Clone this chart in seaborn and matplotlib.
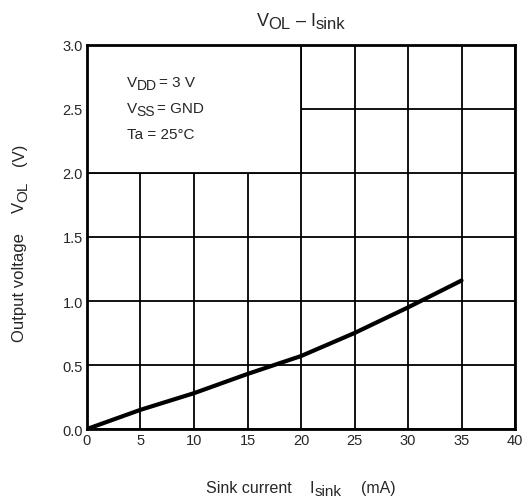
import matplotlib
matplotlib.use("Agg")
import matplotlib.pyplot as plt
import seaborn as sns
import pandas as pd
from matplotlib.patches import Rectangle
from matplotlib.transforms import offset_copy, blended_transform_factory

# data
sink_current = [0, 5, 10, 15, 20, 25, 30, 35]
vol = [0.0, 0.15, 0.28, 0.43, 0.57, 0.75, 0.95, 1.16]
x_ticks = [0, 5, 10, 15, 20, 25, 30, 35, 40]
y_ticks = [0.0, 0.5, 1.0, 1.5, 2.0, 2.5, 3.0]

df = pd.DataFrame({"I": sink_current, "V": vol})

sns.set_style("white")
plt.rcParams["font.family"] = ["Liberation Sans", "DejaVu Sans"]

fig = plt.figure(figsize=(5.25, 5.02), dpi=100)
ax = fig.add_axes([0.1657, 0.1434, 0.8153, 0.765])
renderer = fig.canvas.get_renderer()


def rich(x, y, pieces, transform, rotation=0, center=True):
    # pieces: (text, size, dy in px, gap after in px)
    widths = []
    for s, size, dy, gap in pieces:
        t = fig.text(0, 0, s, fontsize=size)
        widths.append(t.get_window_extent(renderer).width)
        t.remove()
    total = sum(widths) + sum(p[3] for p in pieces[:-1])
    pos = -total / 2 if center else 0
    for (s, size, dy, gap), w in zip(pieces, widths):
        if rotation == 0:
            tr = offset_copy(transform, fig=fig, x=pos, y=dy, units="dots")
        else:
            tr = offset_copy(transform, fig=fig, x=-dy, y=pos, units="dots")
        fig.text(x, y, s, fontsize=size, transform=tr, rotation=rotation,
                 rotation_mode="anchor", ha="left", va="baseline", zorder=5)
        pos += w + gap


for x in x_ticks:
    ax.axvline(x, color="black", lw=1.3, zorder=1)
for y in y_ticks:
    ax.axhline(y, color="black", lw=1.3, zorder=1)

# white box for the conditions
ax.add_patch(Rectangle((0, 2.0), 20, 1.0, facecolor="white", edgecolor="black", lw=1.3, zorder=2))
rich(3.7, 2.68, [("V", 11, 0, 0), ("DD", 10, -3, 2), ("= 3 V", 11, 0, 0)], ax.transData, center=False)
rich(3.7, 2.477, [("V", 11, 0, 0), ("SS", 10, -3, 2), ("= GND", 11, 0, 0)], ax.transData, center=False)
rich(3.7, 2.273, [("Ta = 25°C", 11, 0, 0)], ax.transData, center=False)

sns.lineplot(data=df, x="I", y="V", color="black", lw=3, ax=ax, zorder=4)

ax.set_xlim(0, 40)
ax.set_ylim(0, 3.0)
ax.set_xticks(x_ticks)
ax.set_yticks(y_ticks)
ax.set_yticklabels([f"{v:.1f}" for v in y_ticks])
ax.tick_params(length=0, labelsize=10.5, pad=3)
for s in ax.spines.values():
    s.set_linewidth(2)
    s.set_color("black")
ax.set_xlabel("")
ax.set_ylabel("")

# title
rich(0.5, 1 - 26 / 502, [("V", 13, 0, 0), ("OL", 12, -3, 0), (" – ", 13, 0, 0),
                         ("I", 13, 0, 0), ("sink", 12, -3, 0)],
     blended_transform_factory(ax.transAxes, fig.transFigure))
# x label
rich(0.5, 1 - 493 / 502, [("Sink current", 11.5, 0, 18), ("I", 11.5, 0, 0),
                          ("sink", 11, -3, 20), ("(mA)", 11.5, 0, 0)],
     blended_transform_factory(ax.transAxes, fig.transFigure))
# y label
rich(24 / 525, 1 - 243 / 502, [("Output voltage", 12, 0, 20), ("V", 12, 0, 0),
                               ("OL", 11, -3, 15), ("(V)", 12, 0, 0)],
     fig.transFigure, rotation=90)

fig.savefig("out.png", dpi=100)
